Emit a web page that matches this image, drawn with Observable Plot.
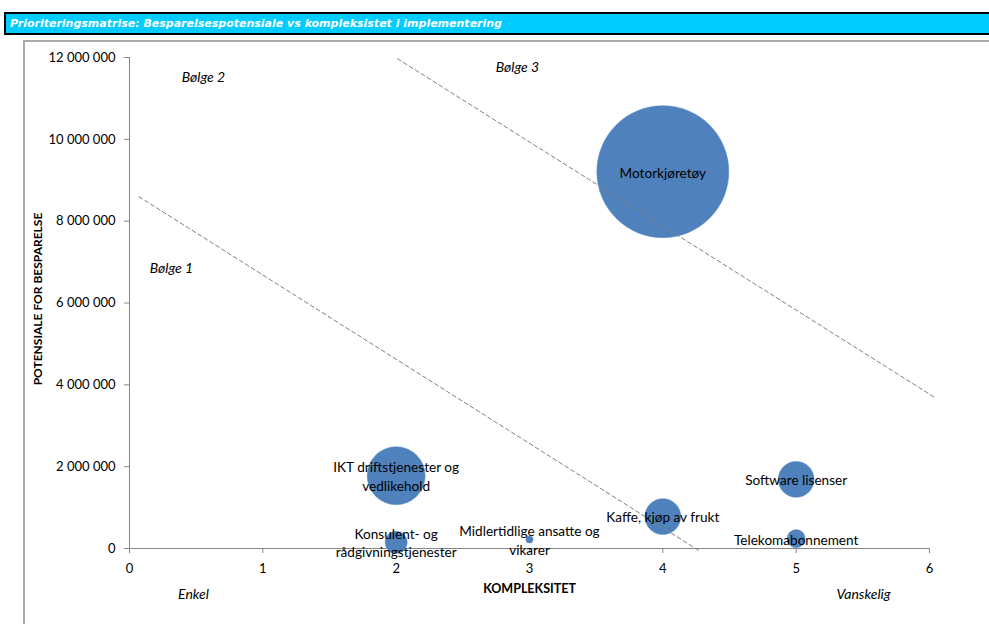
<!DOCTYPE html>
<html>
<head>
<meta charset="utf-8">
<script src="https://cdn.jsdelivr.net/npm/d3@7"></script>
<script src="https://cdn.jsdelivr.net/npm/@observablehq/plot@0.6"></script>
<style>
  html, body { margin: 0; padding: 0; background: white; }
  #wrap { position: relative; width: 989px; height: 624px; overflow: hidden; font-family: Lato, "Open Sans", sans-serif; }
  #titlebar { position: absolute; left: 4px; top: 12px; width: 1000px; height: 19px; border: 2px solid #000; background: #00CCFF;
    color: #fff; font: italic bold 11px "DejaVu Sans", sans-serif; line-height: 19px; padding-left: 4px; box-sizing: content-box; white-space: nowrap; }
  #frame { position: absolute; left: 23px; top: 40px; width: 1000px; height: 620px; border-top: 2px solid #a9a9a9; border-left: 2px solid #a9a9a9; }
  #chart { position: absolute; left: 0; top: 0; }
  #chart svg { background: transparent !important; overflow: visible; }
</style>
</head>
<body>
<div id="wrap">
  <div id="frame"></div>
  <div id="titlebar">Prioriteringsmatrise: Besparelsespotensiale vs kompleksistet i implementering</div>
  <div id="chart"></div>
</div>
<script>
// ---- data ----
const categories = ["Motorkjøretøy", "IKT driftstjenester og\nvedlikehold", "Konsulent- og\nrådgivningstjenester", "Midlertidlige ansatte og\nvikarer", "Kaffe, kjøp av frukt", "Software lisenser", "Telekomabonnement"];
const complexity = [4, 2, 2, 3, 4, 5, 5];
const savings = [9210000, 1780000, 150000, 220000, 780000, 1690000, 240000];
const bubbleSize = [100, 19.3, 2.8, 0.3, 7.4, 7.4, 1.9];

const xTicks = [0, 1, 2, 3, 4, 5, 6];
const yTicks = [0, 2000000, 4000000, 6000000, 8000000, 10000000, 12000000];

const wave1X = [0.07, 4.27];
const wave1Y = [8600000, -50000];
const wave2X = [2.01, 6.05];
const wave2Y = [11970000, 3670000];

const noteText = ["Bølge 1", "Bølge 2", "Bølge 3", "Enkel", "Vanskelig"];
const noteX = [0.315, 0.555, 2.91, 0.48, 5.505];
const noteY = [6840000, 11500000, 11750000, -1120000, -1120000];

const xTitle = "KOMPLEKSITET";
const yTitle = "POTENSIALE FOR BESPARELSE";

// ---- tables ----
const bubbles = categories.map((c, i) => ({name: c, x: complexity[i], y: savings[i], size: bubbleSize[i]}));
const wave1 = wave1X.map((x, i) => ({x, y: wave1Y[i]}));
const wave2 = wave2X.map((x, i) => ({x, y: wave2Y[i]}));
const notes = noteText.map((t, i) => ({t, x: noteX[i], y: noteY[i]}));
const fmt = d => d3.format(",")(d).replace(/,/g, " ");

const chart = Plot.plot({
  width: 989,
  height: 624,
  marginLeft: 129,
  marginRight: 60,
  marginTop: 57,
  marginBottom: 76,
  style: {fontFamily: "Lato, 'Open Sans', sans-serif", fontSize: "13px", background: "transparent", color: "black"},
  x: {domain: [0, 6]},
  y: {domain: [0, 12000000]},
  r: {type: "sqrt", domain: [0, 100], range: [0, 66]},
  marks: [
    Plot.axisY({ticks: yTicks, tickFormat: fmt, tickSize: 5, tickPadding: 9, stroke: "#868686", fill: "black", label: null, fontSize: 13}),
    Plot.axisX({ticks: xTicks, tickFormat: d => String(d), tickSize: 5, tickPadding: 10, stroke: "#868686", fill: "black", label: null, fontSize: 13}),
    Plot.ruleX([0], {stroke: "#868686"}),
    Plot.ruleY([0], {stroke: "#868686"}),
    Plot.dot(bubbles, {x: "x", y: "y", r: "size", fill: "#4f81bd", stroke: "#5b8cc6", strokeWidth: 0.5}),
    Plot.line(wave1, {x: "x", y: "y", stroke: "#808080", strokeWidth: 1, strokeDasharray: "4 3"}),
    Plot.line(wave2, {x: "x", y: "y", stroke: "#808080", strokeWidth: 1, strokeDasharray: "4 3"}),
    Plot.text(bubbles, {x: "x", y: "y", text: "name", fill: "black", fontSize: 13.6, lineHeight: 1.35}),
    Plot.text(notes, {x: "x", y: "y", text: "t", fill: "black", fontSize: 14, fontStyle: "italic"}),
    Plot.text([xTitle], {frameAnchor: "bottom", dy: 44, fontWeight: "bold", fontSize: 12.5, fill: "black"}),
    Plot.text([yTitle], {frameAnchor: "left", textAnchor: "middle", dx: -91, dy: -4, rotate: -90, fontWeight: "bold", fontSize: 12, fill: "black"})
  ]
});
document.getElementById("chart").appendChild(chart);
</script>
</body>
</html>
